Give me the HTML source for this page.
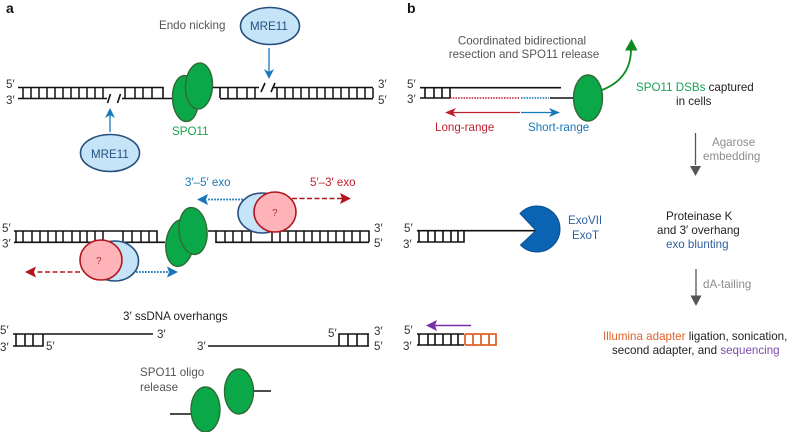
<!DOCTYPE html>
<html>
<head>
<meta charset="utf-8">
<style>
html,body{margin:0;padding:0;background:#fff;width:788px;height:432px;overflow:hidden}
svg{display:block;filter:blur(0.3px)}
text{font-family:"Liberation Sans",sans-serif;font-size:11.6px;fill:#333}
.k{stroke:#111;stroke-width:1.6;fill:none}
.t{stroke:#111;stroke-width:1.5;fill:none}
.g{fill:#0ba84a;stroke:#2f6b35;stroke-width:1.4}
.m{fill:#c5e4f7;stroke:#27507f;stroke-width:1.6}
.p{fill:#fdb3b8;stroke:#b3151f;stroke-width:1.6}
.grn{fill:#17a24f}.blu{fill:#1777bb}.red{fill:#c0202d}.gry{fill:#8c8c8c}.nav{fill:#2f5f9e}.dk{fill:#555}
</style>
</head>
<body>
<svg width="788" height="432" viewBox="0 0 788 432" xmlns="http://www.w3.org/2000/svg">
<text x="6" y="13" style="font-size:14px;font-weight:bold;fill:#111">a</text>
<text x="407" y="13" style="font-size:14px;font-weight:bold;fill:#111">b</text>

<!-- Row 1 left -->
<text x="6" y="88">5′</text><text x="6" y="104">3′</text>
<path class="k" d="M18 87.5H163V98M18 98.5H107M122 98.5H172"/>
<path class="t" d="M23 88V98M31 88V98M39 88V98M47 88V98M55 88V98M63 88V98M71 88V98M79 88V98M87 88V98M95 88V98M103 88V98M125 88V98M135 88V98M143 88V98M152 88V98"/>
<path d="M107.500 103L110.500 94M117.500 103L120.500 94" stroke="#111" stroke-width="1.600" fill="none"/>
<!-- Row 1 right -->
<path class="k" d="M213 87.500H259M273 87.500H373M220 98.700H373M220 88V98"/>
<path class="t" d="M228 88V98M237 88V98M247 88V98M255 88V98M277 88V98M285 88V98M293 88V98M301 88V98M309 88V98M317 88V98M325 88V98M333 88V98M341 88V98M349 88V98M357 88V98M365 88V98M373 88V98"/>
<path d="M261 92L265 83M271 92L275 83" stroke="#111" stroke-width="1.600" fill="none"/>
<text x="378" y="88">3′</text><text x="378" y="104">5′</text>
<ellipse class="g" cx="185.500" cy="98.500" rx="13" ry="23" transform="rotate(-3 185.500 98.500)"/>
<ellipse class="g" cx="199" cy="86" rx="13.500" ry="23" transform="rotate(3 199 86)"/>
<text x="172" y="135" class="grn">SPO11</text>
<text x="159" y="29" class="dk">Endo nicking</text>
<ellipse class="m" cx="270" cy="26" rx="29.500" ry="18.500"/>
<text x="250" y="30" style="fill:#27507f">MRE11</text>
<ellipse class="m" cx="110" cy="153" rx="29.500" ry="18.500"/>
<text x="91" y="158" style="fill:#27507f">MRE11</text>
<path d="M269 48V72" stroke="#1777bb" stroke-width="1.300"/>
<path d="M264 69L269 79L274 69L269 72Z" fill="#1777bb"/>
<path d="M110 132V115" stroke="#1777bb" stroke-width="1.300"/>
<path d="M105 118L110 108L115 118L110 115Z" fill="#1777bb"/>

<!-- Row 2 -->
<text x="2" y="232">5′</text><text x="2" y="247.500">3′</text>
<path class="k" d="M14 231H157V242M14 242.300H165"/>
<path class="t" d="M16 231V242M23 231V242M32 231V242M40 231V242M48 231V242M56 231V242M63 231V242M72 231V242M80 231V242M87 231V242M95 231V242M103 231V242M123 231V242M132 231V242M141 231V242M149 231V242"/>
<path class="k" d="M208 231H369V242M216 231V242.300H369"/>
<path class="t" d="M225 231V242M233 231V242M242 231V242M251 231V242M272 231V242M280 231V242M288 231V242M296 231V242M304 231V242M312 231V242M320 231V242M328 231V242M336 231V242M344 231V242M352 231V242M360 231V242"/>
<text x="374" y="232">3′</text><text x="374" y="247">5′</text>
<ellipse class="g" cx="180" cy="243" rx="14" ry="23.500" transform="rotate(8 180 243)"/>
<ellipse class="g" cx="193" cy="231" rx="14" ry="23.500" transform="rotate(-6 193 231)"/>
<ellipse class="m" cx="262" cy="213" rx="24" ry="20"/>
<ellipse class="p" cx="275" cy="212" rx="21" ry="20"/>
<text x="272" y="216" style="fill:#a8323a;font-size:10px">?</text>
<ellipse class="m" cx="115" cy="261" rx="23.500" ry="20"/>
<ellipse class="p" cx="101" cy="260" rx="21" ry="20"/>
<text x="96" y="264" style="fill:#a8323a;font-size:10px">?</text>
<text x="185" y="186" class="blu">3′–5′ exo</text>
<text x="310" y="186" class="red">5′–3′ exo</text>
<path d="M243 199.500H207" stroke="#1777bb" stroke-width="1.700" stroke-dasharray="1.800 1.200"/>
<path d="M208 194L197 199.500L208 205L206 199.500Z" fill="#1777bb"/>
<path d="M292 198.500H342" stroke="#b3151f" stroke-width="1.500" stroke-dasharray="5 2.500"/>
<path d="M340 193L351 198.500L340 204L342 198.500Z" fill="#b3151f"/>
<path d="M80 272H35" stroke="#b3151f" stroke-width="1.500" stroke-dasharray="5 2.500"/>
<path d="M36 266.500L25 272L36 277.500L34 272Z" fill="#b3151f"/>
<path d="M136 272H170" stroke="#1777bb" stroke-width="1.700" stroke-dasharray="1.800 1.200"/>
<path d="M167 266.500L178 272L167 277.500L169 272Z" fill="#1777bb"/>

<!-- Row 3 -->
<text x="123" y="320" style="fill:#222">3′ ssDNA overhangs</text>
<text x="0" y="334">5′</text><text x="0" y="351">3′</text>
<path class="k" d="M13 334H153M13 346H43V334M16 334V346M25 334V346M33 334V346"/>
<text x="157" y="338">3′</text><text x="46" y="350">5′</text>
<text x="197" y="350">3′</text><text x="328" y="337">5′</text>
<path class="k" d="M208 346H369M339 346V334H369M348 334V346M357 334V346M368 334V346"/>
<text x="374" y="335">3′</text><text x="374" y="350">5′</text>
<text x="140" y="376" class="dk">SPO11 oligo</text>
<text x="140" y="391" class="dk">release</text>
<path class="k" d="M170 414H192M252 391H271"/>
<ellipse class="g" cx="205.500" cy="409.500" rx="14.500" ry="22.500"/>
<ellipse class="g" cx="239" cy="391.500" rx="14.500" ry="22.500"/>

<!-- Panel b row 1 -->
<text x="407" y="88">5′</text><text x="407" y="103">3′</text>
<path class="k" d="M420 87.700H561M420 98H450M550 98H573M425 88V98M434 88V98M442 88V98M450 88V98"/>
<path d="M450 98H520" stroke="#c0202d" stroke-width="1.600" stroke-dasharray="1.600 1.100"/>
<path d="M521 98H549" stroke="#1777bb" stroke-width="1.600" stroke-dasharray="1.600 1.100"/>
<ellipse class="g" cx="588" cy="98" rx="14.500" ry="23"/>
<path d="M602 90C620 83 631 70 631 49" stroke="#0e8a1e" stroke-width="1.800" fill="none"/>
<path d="M625 50.500L631.500 39L637.500 50.500Z" fill="#0e8a1e"/>
<path d="M520 112.500H451" stroke="#c0202d" stroke-width="1.300"/>
<path d="M456 108L445 112.500L456 117L453 112.500Z" fill="#c0202d"/>
<path d="M521 112.500H554" stroke="#1777bb" stroke-width="1.300"/>
<path d="M549 108L560 112.500L549 117L552 112.500Z" fill="#1777bb"/>
<text x="435" y="131" class="red">Long-range</text>
<text x="528" y="131" class="blu">Short-range</text>
<text x="522" y="44.500" text-anchor="middle" class="dk">Coordinated bidirectional</text>
<text x="524" y="58" text-anchor="middle" class="dk">resection and SPO11 release</text>
<text x="636" y="91"><tspan class="grn">SPO11 DSBs</tspan> <tspan style="fill:#222">captured</tspan></text>
<text x="676" y="105" style="fill:#222">in cells</text>
<path d="M695.500 133V165" stroke="#555" stroke-width="1.300"/>
<path d="M690 166H701L695.500 176Z" fill="#555"/>
<text x="712" y="146" class="gry">Agarose</text>
<text x="703" y="160" class="gry">embedding</text>

<!-- Panel b row 2 -->
<text x="404" y="232">5′</text><text x="403" y="248">3′</text>
<path class="k" d="M417 230.700H537M417 242H464V231M419 231V242M428 231V242M435 231V242M443 231V242M451 231V242M458 231V242"/>
<path d="M520 213.500A23 23 0 1 1 520.500 245L536 230.500Z" fill="#0b63b3" stroke="#0a4f8e" stroke-width="1"/>
<text x="568" y="224" class="nav">ExoVII</text>
<text x="572" y="239" class="nav">ExoT</text>
<text x="666" y="220" style="fill:#222">Proteinase K</text>
<text x="657" y="234" style="fill:#222">and 3′ overhang</text>
<text x="666" y="248" class="nav">exo blunting</text>
<path d="M696 269V296" stroke="#555" stroke-width="1.300"/>
<path d="M690.500 295.500H701.500L696 306Z" fill="#555"/>
<text x="703" y="288" class="gry">dA-tailing</text>

<!-- Panel b row 3 -->
<text x="404" y="334">5′</text><text x="403" y="350">3′</text>
<path class="k" d="M417 334H464M417 345H464M419 334V345M428 334V345M435 334V345M443 334V345M451 334V345M458 334V345"/>
<path d="M465 334H496V345H465M465 334V345M473 334V345M481 334V345M489 334V345" fill="none" stroke="#e2622a" stroke-width="1.800"/>
<path d="M471 325.500H435" stroke="#7a2fa3" stroke-width="1.500"/>
<path d="M437 320L426 325.500L437 331L435 325.500Z" fill="#7a2fa3"/>
<text x="603" y="340"><tspan style="fill:#e2622a">Illumina adapter</tspan> <tspan style="fill:#222">ligation, sonication,</tspan></text>
<text x="612" y="354"><tspan style="fill:#222">second adapter, and</tspan> <tspan style="fill:#7d4bb0">sequencing</tspan></text>
</svg>
</body>
</html>
